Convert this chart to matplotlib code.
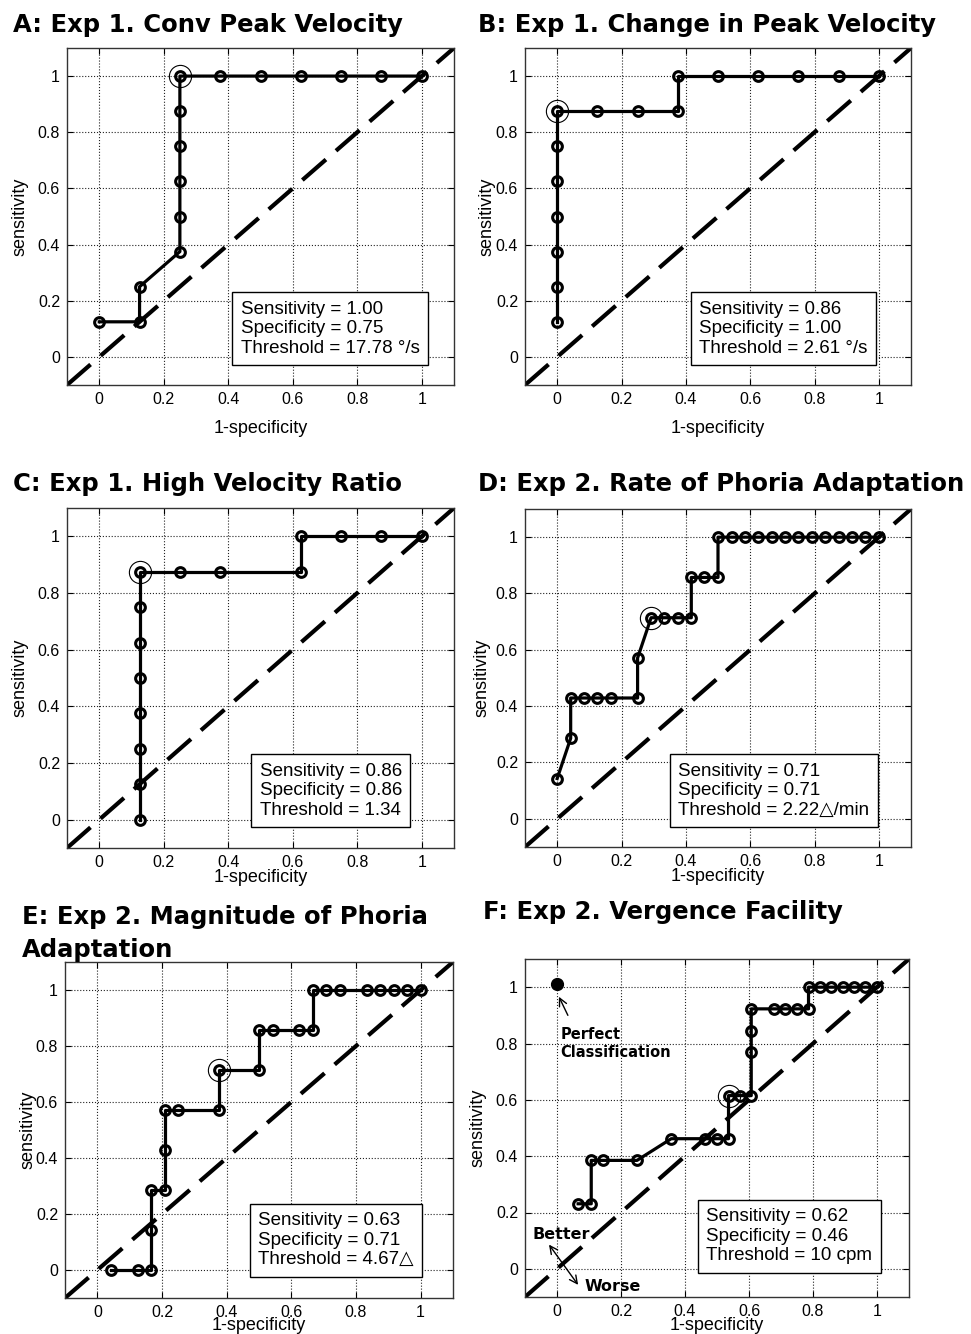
import matplotlib
matplotlib.use('Agg')
import matplotlib.pyplot as plt

plt.rcParams['font.family'] = ['Liberation Sans', 'DejaVu Sans']

titles = ['A: Exp 1. Conv Peak Velocity',
          'B: Exp 1. Change in Peak Velocity',
          'C: Exp 1. High Velocity Ratio',
          'D: Exp 2. Rate of Phoria Adaptation',
          'E: Exp 2. Magnitude of Phoria\nAdaptation',
          'F: Exp 2. Vergence Facility']

# ROC points (1-specificity, sensitivity)
A_x = [0, 0.125, 0.125, 0.25, 0.25, 0.25, 0.25, 0.25, 0.25, 0.375, 0.5, 0.625, 0.75, 0.875, 1]
A_y = [0.125, 0.125, 0.25, 0.375, 0.5, 0.625, 0.75, 0.875, 1, 1, 1, 1, 1, 1, 1]

B_x = [0, 0, 0, 0, 0, 0, 0, 0.125, 0.25, 0.375, 0.375, 0.5, 0.625, 0.75, 0.875, 1]
B_y = [0.125, 0.25, 0.375, 0.5, 0.625, 0.75, 0.875, 0.875, 0.875, 0.875, 1, 1, 1, 1, 1, 1]

C_x = [0.125, 0.125, 0.125, 0.125, 0.125, 0.125, 0.125, 0.125, 0.25, 0.375, 0.625, 0.625, 0.75, 0.875, 1]
C_y = [0, 0.125, 0.25, 0.375, 0.5, 0.625, 0.75, 0.875, 0.875, 0.875, 0.875, 1, 1, 1, 1]

D_x = [0, 0.042, 0.042, 0.083, 0.125, 0.167, 0.25, 0.25, 0.292, 0.333, 0.375, 0.417, 0.417, 0.458,
       0.5, 0.5, 0.542, 0.583, 0.625, 0.667, 0.708, 0.75, 0.792, 0.833, 0.875, 0.917, 0.958, 1]
D_y = [0.143, 0.286, 0.429, 0.429, 0.429, 0.429, 0.429, 0.571, 0.714, 0.714, 0.714, 0.714, 0.857, 0.857,
       0.857, 1, 1, 1, 1, 1, 1, 1, 1, 1, 1, 1, 1, 1]

E_x = [0.042, 0.125, 0.167, 0.167, 0.167, 0.208, 0.208, 0.208, 0.25, 0.375, 0.375, 0.5, 0.5, 0.542,
       0.625, 0.667, 0.667, 0.708, 0.75, 0.833, 0.875, 0.917, 0.958, 1]
E_y = [0, 0, 0, 0.143, 0.286, 0.286, 0.429, 0.571, 0.571, 0.571, 0.714, 0.714, 0.857, 0.857,
       0.857, 0.857, 1, 1, 1, 1, 1, 1, 1, 1]

F_x = [0.066, 0.107, 0.107, 0.143, 0.25, 0.357, 0.464, 0.5, 0.536, 0.536, 0.571, 0.607, 0.607,
       0.607, 0.607, 0.679, 0.714, 0.75, 0.786, 0.786, 0.821, 0.857, 0.893, 0.929, 0.964, 1]
F_y = [0.231, 0.231, 0.385, 0.385, 0.385, 0.462, 0.462, 0.462, 0.462, 0.615, 0.615, 0.615, 0.769,
       0.846, 0.923, 0.923, 0.923, 0.923, 0.923, 1, 1, 1, 1, 1, 1, 1]

best_x = [0.25, 0, 0.125, 0.292, 0.375, 0.536]
best_y = [1, 0.875, 0.875, 0.714, 0.714, 0.615]

sens = ['1.00', '0.86', '0.86', '0.71', '0.63', '0.62']
spec = ['0.75', '1.00', '0.86', '0.71', '0.71', '0.46']
thresh = ['17.78 °/s', '2.61 °/s', '1.34', '2.22\u25b3/min', '4.67\u25b3', '10 cpm']

ticks = [0, 0.2, 0.4, 0.6, 0.8, 1]
tick_labels = ['0', '0.2', '0.4', '0.6', '0.8', '1']

# layout (figure pixels: left, top, right, bottom of axes)
boxes = [(67, 48, 454, 385), (525, 48, 911, 385),
         (67, 508, 454, 848), (525, 509, 911, 847),
         (65, 962, 453, 1298), (525, 959, 909, 1297)]
title_pos = [(13, 32), (478, 32), (13, 491), (478, 491), (22, 957), (483, 919)]
xlab_y = [-0.128, -0.128, -0.088, -0.088, -0.083, -0.083]
ylab_x = [-0.121, -0.098, -0.121, -0.111, -0.095, -0.122]
text_pos = [(0.438, 0.10), (0.442, 0.10), (0.497, 0.102), (0.377, 0.10), (0.497, 0.106), (0.466, 0.116)]

W, H = 971, 1334


def main():
    fig = plt.figure(figsize=(W / 100, H / 100), dpi=100)
    curves = [(A_x, A_y), (B_x, B_y), (C_x, C_y), (D_x, D_y), (E_x, E_y), (F_x, F_y)]
    for i, (xs, ys) in enumerate(curves):
        l, t, r, b = boxes[i]
        ax = fig.add_axes([l / W, 1 - b / H, (r - l) / W, (b - t) / H])
        ax.set_xlim(-0.1, 1.1)
        ax.set_ylim(-0.1, 1.1)
        ax.set_xticks(ticks)
        ax.set_yticks(ticks)
        ax.set_xticklabels(tick_labels, fontsize=11.5)
        ax.set_yticklabels(tick_labels, fontsize=11.5)
        ax.tick_params(direction='in', length=4, width=0.8, top=True, right=True, pad=5)
        ax.grid(True, linestyle=':', color='#222222', linewidth=0.8)
        ax.set_axisbelow(True)
        for s in ax.spines.values():
            s.set_linewidth(1.0)
            s.set_color('#333333')

        ax.axline((0, 0), slope=1, color='black', lw=3, dashes=(7.5, 3.2))
        ax.plot(xs, ys, color='black', lw=2.3, marker='o', ms=7, mfc='none', mew=2.2)
        ax.plot(best_x[i], best_y[i], marker='o', ms=16, mfc='none', mec='black', mew=0.8)

        ax.text(text_pos[i][0], text_pos[i][1],
                'Sensitivity = %s\nSpecificity = %s\nThreshold = %s' % (sens[i], spec[i], thresh[i]),
                fontsize=13.5, ha='left', va='center', linespacing=1.2,
                bbox=dict(boxstyle='square,pad=0.45', fc='white', ec='black', lw=1.0))

        ax.set_xlabel('1-specificity', fontsize=13)
        ax.set_ylabel('sensitivity', fontsize=13)
        ax.xaxis.set_label_coords(0.5, xlab_y[i])
        ax.xaxis.label.set_va('center')
        ax.yaxis.set_label_coords(ylab_x[i], 0.5)
        ax.yaxis.label.set_va('center')

        fig.text(title_pos[i][0] / W, 1 - title_pos[i][1] / H, titles[i],
                 fontsize=17.5, fontweight='bold', family='DejaVu Sans',
                 ha='left', va='baseline', linespacing=1.45)

        if i == 5:
            ax.plot([0], [1.01], marker='o', ms=8.5, color='black')
            ax.annotate('', xy=(0.006, 0.966), xytext=(0.034, 0.90),
                        arrowprops=dict(arrowstyle='->', lw=1, color='black', mutation_scale=14,
                                        shrinkA=0, shrinkB=0))
            ax.text(0.01, 0.80, 'Perfect\nClassification', fontsize=10.5, fontweight='bold',
                    family='DejaVu Sans', ha='left', va='center', linespacing=1.3)
            ax.text(-0.078, 0.122, 'Better', fontsize=11.5, fontweight='bold',
                    family='DejaVu Sans', ha='left', va='center')
            ax.text(0.0875, -0.063, 'Worse', fontsize=11.5, fontweight='bold',
                    family='DejaVu Sans', ha='left', va='center')
            ax.annotate('', xy=(-0.025, 0.086), xytext=(0.066, -0.057),
                        arrowprops=dict(arrowstyle='<->', lw=1, color='black', mutation_scale=14,
                                        shrinkA=0, shrinkB=0))

    fig.savefig('out.png', dpi=100)


main()
